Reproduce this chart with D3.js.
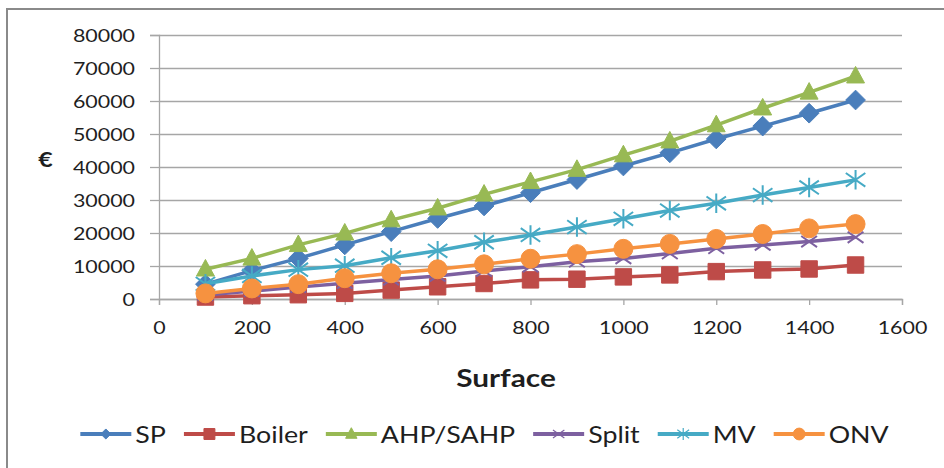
<!DOCTYPE html>
<html>
<head>
<meta charset="utf-8">
<script src="https://cdn.jsdelivr.net/npm/d3@7"></script>
<style>
  body { margin: 0; background: #fff; }
  text { font-family: Lato, "Open Sans", sans-serif; fill: #1e1e1e; }
</style>
</head>
<body>
<div class="visHolder"></div>
<script>
// surface values (x) and cost per system (euro)
var surface = [100, 200, 300, 400, 500, 600, 700, 800, 900, 1000, 1100, 1200, 1300, 1400, 1500];
var seriesNames = ['SP', 'Boiler', 'AHP/SAHP', 'Split', 'MV', 'ONV'];
var spValues     = [4500, 8600, 12300, 16400, 20400, 24400, 28200, 32200, 36200, 40300, 44300, 48500, 52400, 56300, 60300];
var boilerValues = [600, 1000, 1300, 1700, 2700, 3700, 4700, 5800, 6000, 6700, 7300, 8300, 8800, 9100, 10300];
var ahpValues    = [9000, 12300, 16400, 19900, 23900, 27500, 31700, 35500, 39200, 43600, 47800, 52700, 57800, 62600, 67500];
var splitValues  = [1200, 2400, 3600, 4800, 5900, 7000, 8500, 9800, 11300, 12300, 13800, 15400, 16400, 17400, 18700];
var mvValues     = [4600, 7000, 8900, 10100, 12500, 14600, 17200, 19400, 21800, 24300, 26800, 29000, 31500, 33800, 36100];
var onvValues    = [1700, 3200, 4500, 6300, 7800, 9000, 10500, 12200, 13600, 15200, 16700, 18200, 19700, 21400, 22700];
var xTicks = [0, 200, 400, 600, 800, 1000, 1200, 1400, 1600];
var yTicks = [0, 10000, 20000, 30000, 40000, 50000, 60000, 70000, 80000];

var width = 944, height = 468;
var plotLeft = 159, plotRight = 902, plotTop = 35, plotBottom = 299;
var sx = 1.19; // horizontal stretch of the text in the original picture

var colors = ['#4a7ebb', '#be4b48', '#98b954', '#7d60a0', '#46aac5', '#f69240'];
var allValues = [spValues, boilerValues, ahpValues, splitValues, mvValues, onvValues];

// custom excel like markers
var diamond = { draw: function (c, s) { var r = Math.sqrt(s) / 2 * 1.3; c.moveTo(0, -r); c.lineTo(r, 0); c.lineTo(0, r); c.lineTo(-r, 0); c.closePath(); } };
var square = { draw: function (c, s) { var r = Math.sqrt(s) / 2; c.rect(-r, -r, 2 * r, 2 * r); } };
var triangle = { draw: function (c, s) { var r = Math.sqrt(s) / 2; c.moveTo(0, -r * 1.1); c.lineTo(r, r * 0.75); c.lineTo(-r, r * 0.75); c.closePath(); } };
var cross = { draw: function (c, s) { var r = Math.sqrt(s) / 2; c.moveTo(-r, -r * 0.7); c.lineTo(r, r * 0.7); c.moveTo(-r, r * 0.7); c.lineTo(r, -r * 0.7); } };
var star = { draw: function (c, s) { var r = Math.sqrt(s) / 2; c.moveTo(-r, -r * 0.7); c.lineTo(r, r * 0.7); c.moveTo(-r, r * 0.7); c.lineTo(r, -r * 0.7); c.moveTo(0, -r); c.lineTo(0, r); } };
var circle = { draw: function (c, s) { var r = Math.sqrt(s) / 2; c.moveTo(r, 0); c.arc(0, 0, r, 0, 2 * Math.PI); } };

var markerTypes = [diamond, square, triangle, cross, star, circle];
var filled = [true, true, true, false, false, true];
var plotSize = [230, 270, 320, 250, 380, 360];
var legendSize = [60, 120, 130, 130, 140, 140];

var svg = d3.select('.visHolder')
  .append('svg')
  .attr('width', width)
  .attr('height', height);

svg.append('rect')
  .attr('width', width).attr('height', height)
  .attr('fill', '#fff');

// frame (cut on right and bottom like the original)
svg.append('rect')
  .attr('x', 7).attr('y', 9)
  .attr('width', 960).attr('height', 480)
  .attr('fill', 'none')
  .attr('stroke', '#8a8a8a')
  .attr('stroke-width', 2);

var xScale = d3.scaleLinear().domain([0, 1600]).range([plotLeft, plotRight]);
var yScale = d3.scaleLinear().domain([0, 80000]).range([plotBottom, plotTop]);

// grid
svg.append('g')
  .attr('transform', 'translate(' + plotLeft + ',0)')
  .call(d3.axisLeft(yScale).tickValues(yTicks).tickSize(-(plotRight - plotLeft)).tickFormat(''))
  .call(function (g) {
    g.select('.domain').remove();
    g.selectAll('line').attr('stroke', '#a6a6a6').attr('stroke-width', 1.3);
  });

var yAxis = svg.append('g')
  .attr('transform', 'translate(' + plotLeft + ',0)')
  .call(d3.axisLeft(yScale).tickValues(yTicks).tickSize(9).tickPadding(0).tickFormat(d3.format('d')));
yAxis.select('.domain').attr('stroke', '#a6a6a6').attr('stroke-width', 1.3);
yAxis.selectAll('line').attr('stroke', '#a6a6a6').attr('stroke-width', 1.3);
yAxis.selectAll('text')
  .style('font-size', '18px')
  .attr('x', -24 / sx)
  .attr('dy', '0.36em')
  .attr('transform', 'scale(' + sx + ',1)');

var xAxis = svg.append('g')
  .attr('transform', 'translate(0,' + plotBottom + ')')
  .call(d3.axisBottom(xScale).tickValues(xTicks).tickSize(6).tickFormat(d3.format('d')));
xAxis.select('.domain').attr('stroke', '#a6a6a6').attr('stroke-width', 1.3);
xAxis.selectAll('line').attr('stroke', '#a6a6a6').attr('stroke-width', 1.3);
xAxis.selectAll('text')
  .style('font-size', '18px')
  .attr('y', 35)
  .attr('dy', 0)
  .attr('transform', 'scale(' + sx + ',1)');

// axis titles
svg.append('text')
  .attr('transform', 'translate(45.5,167) scale(' + sx + ',1)')
  .attr('text-anchor', 'middle')
  .style('font-size', '21px')
  .style('font-weight', 'bold')
  .text('€');

svg.append('text')
  .attr('transform', 'translate(506,387) scale(' + sx + ',1)')
  .attr('text-anchor', 'middle')
  .style('font-size', '25px')
  .style('font-weight', 'bold')
  .text('Surface');

// series
var line = d3.line()
  .x(function (d) { return xScale(d[0]); })
  .y(function (d) { return yScale(d[1]); });

seriesNames.forEach(function (name, k) {
  var pts = surface.map(function (s, i) { return [s, allValues[k][i]]; });
  var g = svg.append('g').attr('class', 'series');
  g.append('path')
    .datum(pts)
    .attr('d', line)
    .attr('fill', 'none')
    .attr('stroke', colors[k])
    .attr('stroke-width', 3.5)
    .attr('stroke-linejoin', 'round');
  g.selectAll('.mark')
    .data(pts)
    .enter()
    .append('path')
    .attr('class', 'mark')
    .attr('transform', function (d) { return 'translate(' + xScale(d[0]) + ',' + yScale(d[1]) + ')'; })
    .attr('d', d3.symbol().type(markerTypes[k]).size(plotSize[k]))
    .attr('fill', filled[k] ? colors[k] : 'none')
    .attr('stroke', colors[k])
    .attr('stroke-width', filled[k] ? 1 : 2);
});

// legend
var legend = svg.append('g').attr('id', 'legend');
var pos = 0;
var gap = 18;
seriesNames.forEach(function (name, k) {
  var it = legend.append('g');
  it.append('line')
    .attr('x1', 0).attr('x2', 51)
    .attr('y1', 0).attr('y2', 0)
    .attr('stroke', colors[k])
    .attr('stroke-width', 4);
  it.append('path')
    .attr('transform', 'translate(25.5,0)')
    .attr('d', d3.symbol().type(markerTypes[k]).size(legendSize[k]))
    .attr('fill', filled[k] ? colors[k] : 'none')
    .attr('stroke', colors[k])
    .attr('stroke-width', filled[k] ? 1 : 1.2);
  var t = it.append('text')
    .attr('transform', 'translate(55,8.5) scale(' + sx + ',1)')
    .style('font-size', '22.5px')
    .text(name);
  var w = 55 + t.node().getComputedTextLength() * sx;
  it.attr('transform', 'translate(' + pos + ',434)');
  pos += w + gap;
});
var total = pos - gap;
legend.attr('transform', 'translate(' + (484.5 - total / 2) + ',0)');
</script>
</body>
</html>
